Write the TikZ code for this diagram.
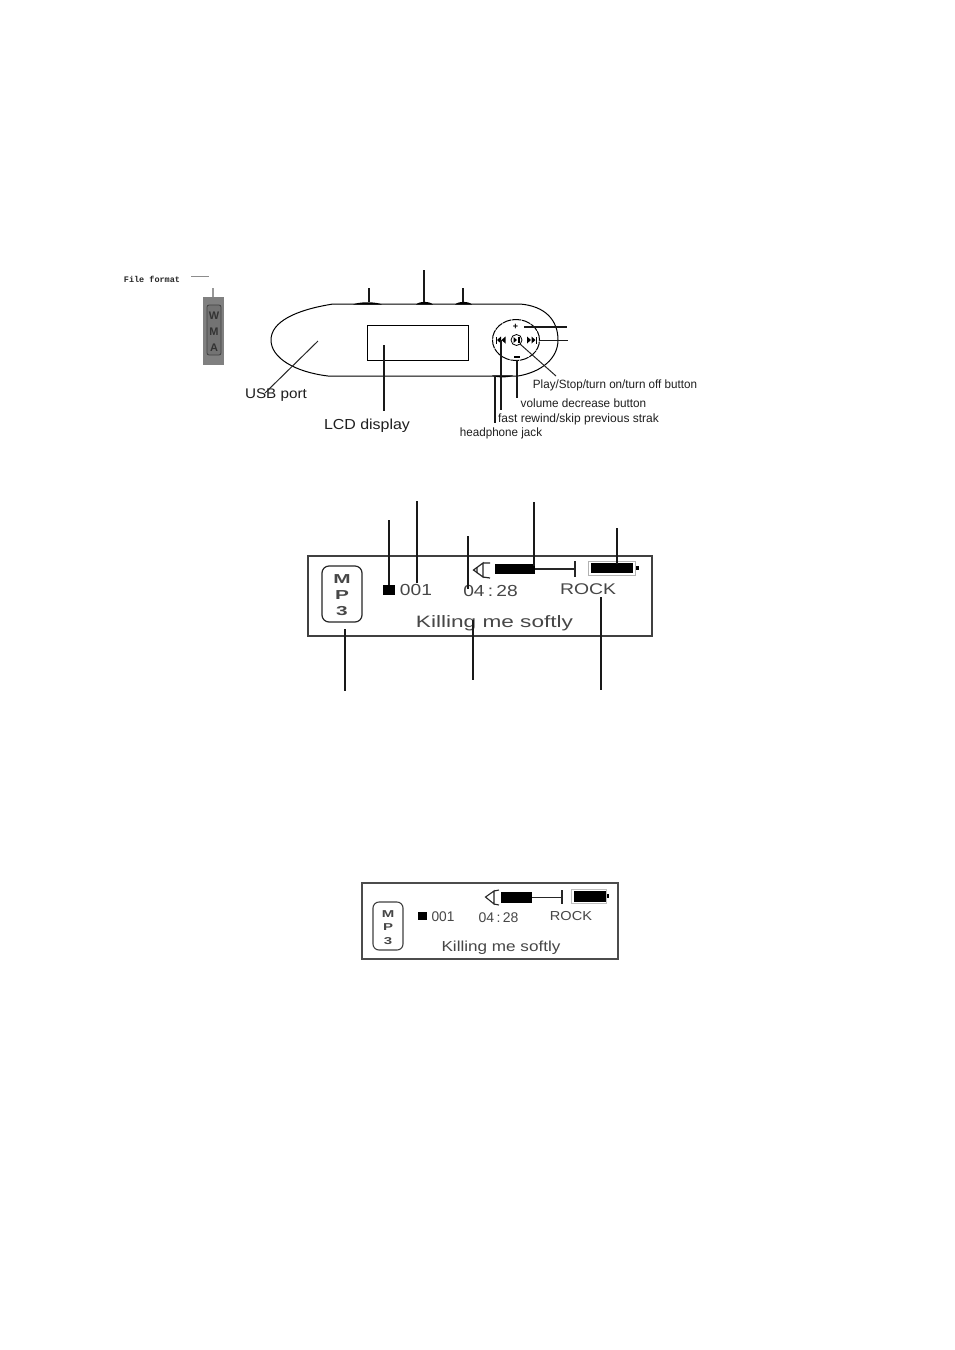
\documentclass[tikz,border=0pt]{standalone}
\usepackage{fontspec}
\usetikzlibrary{shapes.geometric}
\setmainfont{Liberation Sans}
\newfontfamily\monob{Liberation Mono}[BoldFont={Liberation Mono Bold}]
\newcommand{\Tx}[3]{\scalebox{#2}[1]{\fontsize{#1pt}{#1pt}\selectfont #3}}
\tikzset{
  lab/.style={inner sep=0pt,text=black!88},
  disp/.style={inner sep=0pt,text=black!72},
  ln/.style={line width=1.2pt,black!90},
  thinln/.style={line width=1pt,black!85},
  box/.style={draw=black!75,line width=1.6pt},
  blk/.style={fill=black,draw=none},
}
\begin{document}
\begin{tikzpicture}[x=1pt,y=-1pt]
\useasboundingbox (0,0) rectangle (954,1350);
\fill[white] (0,0) rectangle (954,1350);
% ---------- file format
\node[inner sep=0pt,text=black!85] (ff) at (152,279.5) {\monob\bfseries\fontsize{8.5pt}{8.5pt}\selectfont File format};
\coordinate (dashA) at (191,276); \coordinate (dashB) at (209,276);
\draw[line width=1pt,black!45] (dashA) -- (dashB);
\node[fill=black!50,minimum width=21pt,minimum height=68pt,inner sep=0pt] (wma) at (213.5,331) {};
\coordinate (wmaT) at (213,288);
\draw[line width=1.2pt,black!40] (wmaT) -- (wma.north -| wmaT);
\node[draw=black!75,rounded corners=2pt,fill=black!55,minimum width=14pt,minimum height=50pt,inner sep=0pt,line width=.8pt] (wmai) at (214,330) {};
\node[inner sep=0pt,text=black!80] (w) at (214,316) {\bfseries\fontsize{11pt}{11pt}\selectfont W};
\node[inner sep=0pt,text=black!80] (m) at (214,332) {\bfseries\fontsize{11pt}{11pt}\selectfont M};
\node[inner sep=0pt,text=black!80] (a) at (214,348) {\bfseries\fontsize{11pt}{11pt}\selectfont A};
% ---------- player body
\draw[line width=1pt,black] (333,304) .. controls (295,310) and (271,322) .. (271,340)
   .. controls (271,358) and (295,372) .. (328,376) -- (518,376)
   .. controls (542,372) and (558,358) .. (558,340)
   .. controls (558,320) and (545,306) .. (520,304) -- cycle;
\node[draw=black,line width=1pt,minimum width=101pt,minimum height=35pt,inner sep=0pt] (lcd) at (418,342.5) {};
% top buttons
\fill[black] (353,304.6) .. controls (358,301.5) and (377,301.5) .. (382,304.6) -- cycle;
\fill[black] (416,304.6) .. controls (419,301) and (430,301) .. (433,304.6) -- cycle;
\fill[black] (455,304.6) .. controls (458,301) and (469,301) .. (472,304.6) -- cycle;
\coordinate (b1) at (369,288); \coordinate (b1e) at (369,302);
\coordinate (b2) at (424,270); \coordinate (b2e) at (424,302);
\coordinate (b3) at (463,288); \coordinate (b3e) at (463,302);
\draw[ln] (b1) -- (b1e);
\draw[ln] (b2) -- (b2e);
\draw[ln] (b3) -- (b3e);
% headphone jack bump
\fill[black] (492,375.4) -- (513,375.4) .. controls (511,378) and (494,378) .. (492,375.4) -- cycle;
% control ring
\node[draw=black,line width=1pt,ellipse,minimum width=47pt,minimum height=41pt,inner sep=0pt,dash pattern=on 9pt off .8pt] (ring) at (516,340) {};
\node[draw=black,circle,line width=.8pt,minimum size=11pt,inner sep=0pt] (play) at (516.5,340) {};
\node[inner sep=0pt] (plus) at (515.5,327) {\bfseries\fontsize{9pt}{9pt}\selectfont +};
\node[blk,minimum width=6pt,minimum height=1.6pt,inner sep=0pt] (minus) at (516.5,357) {};
% prev / next / play glyphs
\fill[black] (496,336.5) rectangle (497.2,343.5);
\fill[black] (501,336.5) -- (497,340) -- (501,343.5) -- cycle;
\fill[black] (505.5,336.5) -- (501.5,340) -- (505.5,343.5) -- cycle;
\fill[black] (527,336.5) -- (531,340) -- (527,343.5) -- cycle;
\fill[black] (531.5,336.5) -- (535.5,340) -- (531.5,343.5) -- cycle;
\fill[black] (536,336.5) rectangle (537.2,343.5);
\fill[black] (513.5,337) -- (517,340) -- (513.5,343) -- cycle;
\fill[black] (517.5,337) rectangle (518.4,343);
\fill[black] (519.2,337) rectangle (520.1,343);
% text labels
\node[lab] (usb) at (276,395) {\Tx{14}{1.09}{USB port}};
\node[lab] (lcdl) at (367,425.5) {\Tx{14.5}{1.1}{LCD display}};
\node[lab] (playl) at (615,385) {\Tx{12}{0.97}{Play/Stop/turn on/turn off button}};
\node[lab] (voll) at (583.5,403) {\Tx{12}{0.98}{volume decrease button}};
\node[lab] (revl) at (578.5,419) {\Tx{12}{1.0}{fast rewind/skip previous strak}};
\node[lab] (hpl) at (501,433) {\Tx{12}{0.97}{headphone jack}};
% leaders
\coordinate (usbE) at (318,341); \coordinate (usbS) at (265,393);
\draw[thinln] (usbE) -- (usbS);
\coordinate (lcdE) at (384,345); \coordinate (lcdS) at (384,411);
\draw[ln] (lcdE) -- (lcdS);
\coordinate (plusE) at (524,327); \coordinate (plusS) at (567,327);
\draw[ln] (plusE) -- (plusS);
\coordinate (nextE) at (539,340.5); \coordinate (nextS) at (568,340.5);
\draw[ln] (nextE) -- (nextS);
\coordinate (playE) at (520,344); \coordinate (playS) at (556,376);
\draw[thinln] (playE) -- (playS);
\coordinate (volE) at (517,360); \coordinate (volS) at (517,398);
\draw[ln] (volE) -- (volS);
\coordinate (revE) at (501,340); \coordinate (revS) at (501,410);
\draw[ln] (revE) -- (revS);
\coordinate (hpE) at (495,376); \coordinate (hpS) at (495,423);
\draw[ln] (hpE) -- (hpS);
% ---------- large display
\node[box,minimum width=344pt,minimum height=80pt,inner sep=0pt] (d1) at (480,596) {};
\node[draw=black!85,line width=1.2pt,rounded corners=7pt,minimum width=40pt,minimum height=56pt,inner sep=0pt] (mp1) at (342,594) {};
\node[disp] (m1) at (342,579) {\bfseries\Tx{13}{1.6}{M}};
\node[disp] (p1) at (342,595.5) {\bfseries\Tx{13}{1.6}{P}};
\node[disp] (t1) at (342,611) {\bfseries\Tx{13}{1.6}{3}};
\node[blk,minimum width=12pt,minimum height=10pt,inner sep=0pt] (sq1) at (389,590) {};
\node[disp] (n1) at (416,590) {\Tx{16}{1.2}{001}};
\node[disp] (tm1) at (490.5,590.5) {\Tx{16}{1.2}{04\,:\,28}};
\node[disp] (rk1) at (588,589.5) {\Tx{15.5}{1.25}{ROCK}};
\node[disp] (km1) at (494.5,623) {\Tx{16.5}{1.37}{Killing me softly}};
% speaker and volume bar
\draw[line width=1.2pt,black!85,line join=miter] (483,563) -- (473.5,570) -- (483,577) -- cycle;
\draw[line width=1.2pt,black!85] (483,563) -- (490,563) (483,577) -- (490,578) (477,567) -- (477,573);
\node[blk,minimum width=40pt,minimum height=10pt,inner sep=0pt] (bar1) at (515,569) {};
\coordinate (tick1) at (575,569);
\draw[line width=1.3pt,black!85] (bar1.east) -- (tick1);
\draw[line width=1.3pt,black!85] (575,561) -- (575,577);
\node[draw=black!30,line width=1pt,minimum width=47pt,minimum height=14pt,inner sep=0pt] (bo1) at (611.5,568) {};
\node[blk,minimum width=42pt,minimum height=10pt,inner sep=0pt] (bf1) at (612,568) {};
\fill[black] (636,566) rectangle (638.5,570);
% leaders of large display
\coordinate (ldA) at (389,520); \coordinate (ldB) at (417,501); \coordinate (ldC) at (468,536);
\coordinate (ldD) at (534,502); \coordinate (ldE) at (617,528);
\coordinate (ldF) at (345,629); \coordinate (ldG) at (473,620); \coordinate (ldH) at (601,597);
\coordinate (ldAe) at (389,585); \coordinate (ldBe) at (417,583); \coordinate (ldCe) at (468,589);
\coordinate (ldDe) at (534,566); \coordinate (ldEe) at (617,564);
\coordinate (ldFe) at (345,691); \coordinate (ldGe) at (473,680); \coordinate (ldHe) at (601,690);
\draw[ln] (ldA) -- (ldAe);
\draw[ln] (ldB) -- (ldBe);
\draw[ln] (ldC) -- (ldCe);
\draw[ln] (ldD) -- (ldDe);
\draw[ln] (ldE) -- (ldEe);
\draw[ln] (ldF) -- (ldFe);
\draw[ln] (ldG) -- (ldGe);
\draw[ln] (ldH) -- (ldHe);
% ---------- small display
\node[box,draw=black!70,minimum width=256pt,minimum height=76pt,inner sep=0pt] (d2) at (490,921) {};
\node[draw=black!75,line width=1.1pt,rounded corners=6pt,minimum width=30pt,minimum height=48pt,inner sep=0pt] (mp2) at (388,926) {};
\node[disp] (m2) at (388,914) {\bfseries\Tx{10}{1.5}{M}};
\node[disp] (p2) at (388,927.5) {\bfseries\Tx{10}{1.5}{P}};
\node[disp] (t2) at (388,941) {\bfseries\Tx{10}{1.5}{3}};
\node[blk,minimum width=9pt,minimum height=8pt,inner sep=0pt] (sq2) at (422.5,916) {};
\node[disp] (n2) at (443,916.5) {\Tx{14}{0.98}{001}};
\node[disp] (tm2) at (498.5,917.5) {\Tx{14}{1.0}{04\,:\,28}};
\node[disp] (rk2) at (571,916.5) {\Tx{13}{1.12}{ROCK}};
\node[disp] (km2) at (501,947.5) {\Tx{14.5}{1.18}{Killing me softly}};
\draw[line width=1.1pt,black!85] (494,891) -- (485.5,897) -- (494,904) -- cycle;
\draw[line width=1.1pt,black!85] (494,891) -- (499,890) (494,904) -- (499,905);
\node[blk,minimum width=31pt,minimum height=11pt,inner sep=0pt] (bar2) at (516.5,897.5) {};
\coordinate (tick2) at (562,897.5);
\draw[line width=1.2pt,black!85] (bar2.east) -- (tick2);
\draw[line width=1.2pt,black!85] (562,890) -- (562,904);
\node[draw=black!25,line width=.8pt,minimum width=35pt,minimum height=14pt,inner sep=0pt] (bo2) at (589,896) {};
\node[blk,minimum width=32pt,minimum height=11pt,inner sep=0pt] (bf2) at (589.5,896) {};
\fill[black] (607,894) rectangle (609,898);
\end{tikzpicture}
\end{document}
